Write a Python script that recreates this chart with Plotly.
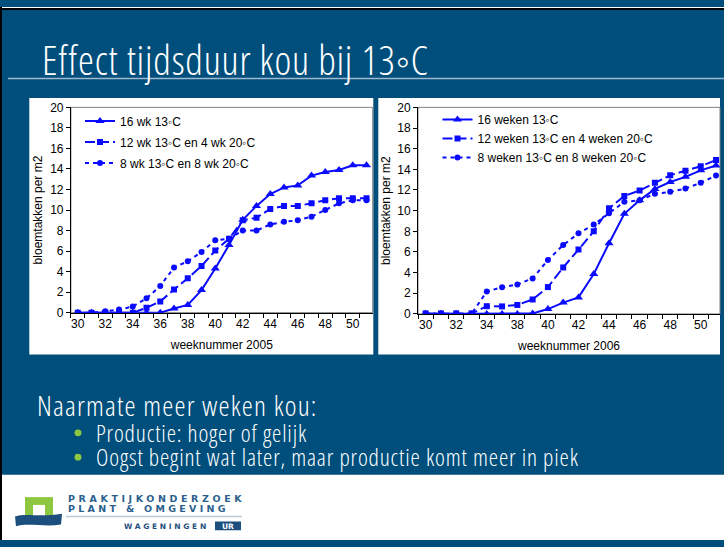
import plotly.graph_objects as go

# ---------------- data ----------------
weeks_2005 = [str(w) for w in range(30, 52)]
wk16_2005 = [0, 0, 0, 0, 0, 0, 0, 0.4, 0.75, 2.2, 4.3, 6.6, 9.05, 10.4, 11.55, 12.2, 12.4, 13.35, 13.7, 13.9, 14.35, 14.35]
wk12_2005 = [0, 0, 0, 0, 0, 0.47, 1.1, 2.25, 3.35, 4.55, 6.05, 7.2, 9.0, 9.25, 10.1, 10.4, 10.4, 10.65, 10.95, 11.15, 11.15, 11.15]
wk8_2005 = [0, 0, 0.15, 0.3, 0.6, 1.4, 2.6, 4.4, 5.0, 5.9, 7.05, 7.2, 8.0, 8.0, 8.6, 8.85, 9.0, 9.35, 10.0, 10.65, 10.95, 10.95]

weeks_2006 = ["30", "31", "32", "33", "34", "36"] + [str(w) for w in range(38, 52)]
wk16_2006 = [0, 0, 0, 0, 0, 0, 0, 0.05, 0.47, 1.1, 1.6, 3.87, 6.85, 9.7, 11.0, 12.1, 12.77, 13.27, 13.9, 14.37]
wk12_2006 = [0.05, 0.05, 0.05, 0.05, 0.75, 0.73, 0.87, 1.4, 2.6, 4.5, 6.23, 8.0, 10.22, 11.42, 11.95, 12.7, 13.43, 13.87, 14.3, 14.9]
wk8_2006 = [0.05, 0.05, 0.05, 0, 2.17, 2.58, 2.85, 3.44, 5.22, 6.67, 7.8, 8.65, 9.75, 10.85, 11.0, 11.63, 11.82, 12.14, 12.7, 13.4]

names_2005 = ["16 wk 13◦C", "12 wk 13◦C en 4 wk 20◦C", "8 wk 13◦C en 8 wk 20◦C"]
names_2006 = ["16 weken 13◦C", "12 weken 13◦C en 4 weken 20◦C", "8 weken 13◦C en 8 weken 20◦C"]

title_text = "Effect tijdsduur kou bij 13◦C"
heading_text = "Naarmate meer weken kou:"
bullets = ["Productie: hoger of gelijk", "Oogst begint wat later, maar productie komt meer in piek"]

# ---------------- helpers ----------------
W, H = 724, 547
def px(x):
    return x / W
def py(y):
    return 1 - y / H

SLIDE_BLUE = "#004e7b"
LINE_BLUE = "#0a0aff"
ARIAL = "Liberation Sans, Arial, sans-serif"

styles = [
    dict(symbol="triangle-up", size=8, dash="solid"),
    dict(symbol="square", size=6, dash="10px,4px"),
    dict(symbol="circle", size=6, dash="4px,4px"),
]

fig = go.Figure()

def add_series(weeks, values, names, xa, ya, legend, grp):
    for i, (vals, name) in enumerate(zip(values, names)):
        st = styles[i]
        fig.add_trace(go.Scatter(
            x=weeks, y=vals, name=name, mode="lines+markers",
            xaxis=xa, yaxis=ya, legend=legend, legendgroup=f"{grp}{i}",
            line=dict(color=LINE_BLUE, width=2, dash=st["dash"]),
            marker=dict(symbol=st["symbol"], size=st["size"], color=LINE_BLUE),
            hoverinfo="x+y+name",
        ))

add_series(weeks_2005, [wk16_2005, wk12_2005, wk8_2005], names_2005, "x", "y", "legend", "a")
add_series(weeks_2006, [wk16_2006, wk12_2006, wk8_2006], names_2006, "x2", "y2", "legend2", "b")

shapes = []
def rect(x0, y0, x1, y1, fill, line_color=None, lw=0, layer="below"):
    shapes.append(dict(type="rect", xref="paper", yref="paper",
                       x0=px(x0), x1=px(x1), y0=py(y1), y1=py(y0),
                       fillcolor=fill, layer=layer,
                       line=dict(color=line_color or fill, width=lw)))

# slide furniture
rect(0, 480, 724, 547, "white")
rect(0, 0, 724, 1, "white")
rect(0, 1, 724, 3, "black")
rect(0, 0, 2, 547, "black")
shapes.append(dict(type="line", xref="paper", yref="paper", x0=px(8), x1=px(724),
                   y0=py(73.5), y1=py(73.5), line=dict(color="#9fbad0", width=1.5), layer="below"))
rect(29.3, 93.3, 373.3, 356.7, "white")
rect(378.3, 93.3, 720, 356.7, "white")
L_X0, L_X1, L_Y0, L_Y1 = 70.9, 372.7, 103, 313.7
R_X0, R_X1, R_Y0, R_Y1 = 418.0, 720, 103, 315
for (a, b, c, d) in [(L_X0, L_X1, L_Y0, L_Y1), (R_X0, R_X1, R_Y0, R_Y1)]:
    shapes.append(dict(type="rect", xref="paper", yref="paper", x0=px(a), x1=px(b), y0=py(d), y1=py(c),
                       line=dict(color="#808080", width=1), fillcolor="rgba(0,0,0,0)", layer="below"))

for yy in (437, 462):
    shapes.append(dict(type="circle", xref="paper", yref="paper",
                       x0=px(74.5), x1=px(81.5), y0=py(yy + 3.5), y1=py(yy - 3.5),
                       fillcolor="#8dc641", line=dict(width=0), layer="above"))

# logo shapes
rect(25, 503, 53, 524, "#8dc63f", layer="above")
rect(33, 511, 45, 524, "white", layer="above")
wave = (f"M {px(15)},{py(523)} C {px(25)},{py(519)} {px(40)},{py(524)} {px(62)},{py(520)} "
        f"L {px(61)},{py(531)} C {px(45)},{py(534)} {px(28)},{py(529)} {px(16)},{py(533)} Z")
shapes.append(dict(type="path", xref="paper", yref="paper", path=wave,
                   fillcolor="#1d4f7e", line=dict(width=0), layer="above"))
shapes.append(dict(type="line", xref="paper", yref="paper", x0=px(66), x1=px(242),
                   y0=py(523), y1=py(523), line=dict(color="#b9cad8", width=1.5), layer="above"))
rect(215, 528, 241, 537, "#1d4f7e", layer="above")

annotations = []
def text(x, y, s, font, xanchor="left", yanchor="middle"):
    annotations.append(dict(xref="paper", yref="paper", x=px(x), y=py(y), text=s,
                            showarrow=False, xanchor=xanchor, yanchor=yanchor, font=font))

def cond(s, spacing):
    return f'<span style="font-stretch:condensed;letter-spacing:{spacing}px">{s}</span>'

SLIDE_FONT = "Open Sans, sans-serif"
text(40, 54, cond(title_text, 0.8), dict(size=40, color="white", family=SLIDE_FONT, weight=300))
text(35, 408, cond(heading_text, 1.2), dict(size=28, color="white", family=SLIDE_FONT, weight=300))
text(94, 437, cond(bullets[0], 0.85), dict(size=23.5, color="white", family=SLIDE_FONT, weight=300))
text(94, 462, cond(bullets[1], 0.85), dict(size=23.5, color="white", family=SLIDE_FONT, weight=300))

LOGO = "DejaVu Sans, sans-serif"
text(66, 504, '<span style="letter-spacing:3.6px"><b>PRAKTIJKONDERZOEK</b></span>', dict(size=9.5, color="#2b5f8e", family=LOGO))
text(66, 515, '<span style="letter-spacing:3.3px"><b>PLANT &amp; OMGEVING</b></span>', dict(size=9.5, color="#2b5f8e", family=LOGO))
text(122, 533, '<span style="letter-spacing:2.7px"><b>WAGENINGEN</b></span>', dict(size=7.5, color="#1d4f7e", family=LOGO))
text(228, 533, '<b>UR</b>', dict(size=7.5, color="white", family=LOGO), xanchor="center")

tickfont = dict(size=12, color="black", family=ARIAL)

def xaxis(domain, weeks, rng, title, anchor):
    return dict(domain=domain, type="category", range=rng, anchor=anchor,
                tickmode="array", tickvals=weeks,
                ticktext=[w if i % 2 == 0 else "" for i, w in enumerate(weeks)],
                tickson="boundaries", ticks="outside", ticklen=4, tickcolor="black", tickangle=0,
                showline=True, linecolor="black", linewidth=1, showgrid=False, zeroline=False,
                tickfont=tickfont, fixedrange=True,
                title=dict(text=title, font=tickfont, standoff=10))

def yaxis(domain, anchor):
    return dict(domain=domain, range=[0, 20], dtick=2, tick0=0, ticks="outside", ticklen=4,
                tickcolor="black", showline=True, linecolor="black", linewidth=1,
                showgrid=False, zeroline=False, tickfont=tickfont, anchor=anchor, fixedrange=True,
                title=dict(text="bloemtakken per m2", font=tickfont, standoff=4))

fig.update_layout(
    width=W, height=H, autosize=False,
    margin=dict(l=0, r=0, t=0, b=0),
    paper_bgcolor=SLIDE_BLUE, plot_bgcolor="rgba(0,0,0,0)",
    xaxis=xaxis([px(L_X0), px(L_X1)], weeks_2005, [-0.5, 21.45], "weeknummer 2005", "y"),
    yaxis=yaxis([py(L_Y1), py(L_Y0)], "x"),
    xaxis2=xaxis([px(R_X0), px(R_X1)], weeks_2006, [-0.5, 19.26], "weeknummer 2006", "y2"),
    yaxis2=yaxis([py(R_Y1), py(R_Y0)], "x2"),
    legend=dict(x=px(80), y=py(102), xanchor="left", yanchor="top", bgcolor="rgba(0,0,0,0)",
                font=dict(size=12, color="black", family=ARIAL), tracegroupgap=2,
                traceorder="grouped", itemclick=False),
    legend2=dict(x=px(437.5), y=py(100.5), xanchor="left", yanchor="top", bgcolor="rgba(0,0,0,0)",
                 font=dict(size=12, color="black", family=ARIAL), tracegroupgap=0,
                 traceorder="grouped", itemclick=False),
    shapes=shapes, annotations=annotations, showlegend=True,
)

fig.write_html("out.html", config={"displayModeBar": False},
               post_script="document.body.style.margin='0';document.body.style.overflow='hidden';")
